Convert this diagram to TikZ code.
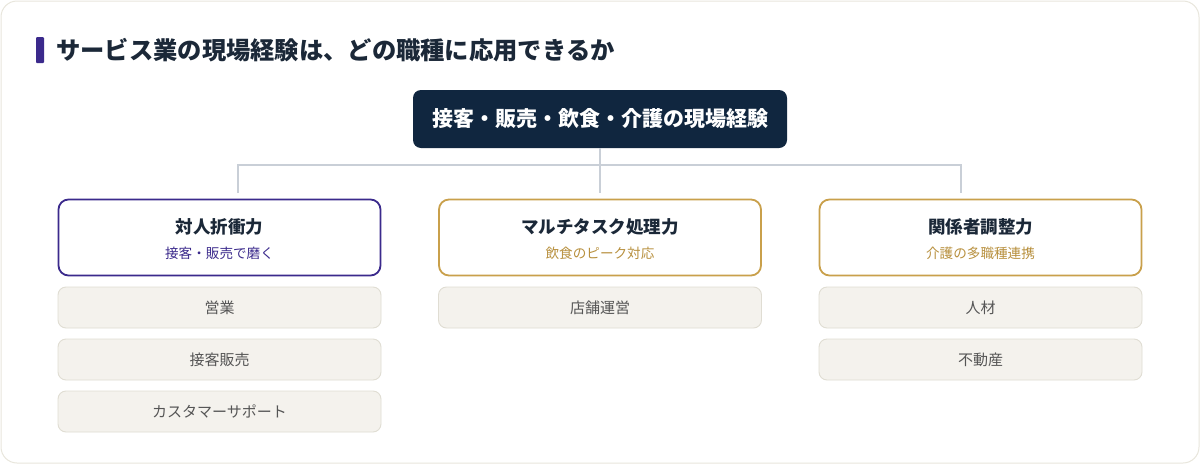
\documentclass[tikz,border=0pt]{standalone}
\usepackage{fontspec}
\setmainfont{Noto Sans CJK JP}
\definecolor{cardline}{HTML}{E8E6DC}
\definecolor{navy}{HTML}{10263F}
\definecolor{inkdark}{HTML}{1B2838}
\definecolor{purp}{HTML}{3B2A8C}
\definecolor{gold}{HTML}{C9A04B}
\definecolor{goldtext}{HTML}{B8903E}
\definecolor{itemfill}{HTML}{F4F2ED}
\definecolor{itemline}{HTML}{E0DDD3}
\definecolor{itemtext}{HTML}{555555}
\definecolor{conncol}{HTML}{C9CFD7}
\tikzset{
  topbox/.style={fill=navy, rounded corners=8pt, minimum width=374pt, minimum height=58pt, text=white, font=\fontsize{21}{25}\selectfont\bfseries, inner sep=0pt},
  catbox/.style={draw=#1, line width=1.8pt, fill=white, rounded corners=10pt, minimum width=322pt, minimum height=76pt, inner sep=0pt},
  cattitle/.style={text=inkdark, font=\fontsize{17.5}{21}\selectfont\bfseries, inner sep=0pt},
  catsub/.style={text=#1, font=\fontsize{13.6}{16}\selectfont, inner sep=0pt},
  itembox/.style={draw=itemline, line width=0.9pt, fill=itemfill, rounded corners=8pt, minimum width=323pt, minimum height=41pt, text=itemtext, font=\fontsize{15}{18}\selectfont, inner sep=0pt},
  conn/.style={draw=conncol, line width=1.6pt}
}
\begin{document}
\begin{tikzpicture}[x=1pt,y=-1pt]
\useasboundingbox (0,0) rectangle (1200,464);
\draw[cardline, fill=white, line width=1pt, rounded corners=16pt] (1,1) rectangle (1199,463);
% title
\fill[purp, rounded corners=1pt] (36,37) rectangle (44,63);
\node[anchor=west, text=inkdark, font=\fontsize{24.3}{28}\selectfont\bfseries, inner sep=0pt] (title) at (56,50) {サービス業の現場経験は、どの職種に応用できるか};
% top node
\node[topbox] (top) at (600,119) {接客・販売・飲食・介護の現場経験};
% connectors
\coordinate (jL) at (238,165);
\coordinate (jR) at (961,165);
\coordinate (eL) at (238,193);
\coordinate (eM) at (600,193);
\coordinate (eR) at (961,193);
\draw[conn] (top.south) -- (eM);
\draw[conn] (eL) -- (jL) -- (jR) -- (eR);
% categories
\node[catbox=purp] (c1) at (219.5,237.5) {};
\node[cattitle] (c1t) at (219.5,227) {対人折衝力};
\node[catsub=purp] (c1s) at (219.5,253) {接客・販売で磨く};
\node[catbox=gold] (c2) at (600,237.5) {};
\node[cattitle] (c2t) at (600,227) {マルチタスク処理力};
\node[catsub=goldtext] (c2s) at (600,253) {飲食のピーク対応};
\node[catbox=gold] (c3) at (980.5,237.5) {};
\node[cattitle] (c3t) at (980.5,227) {関係者調整力};
\node[catsub=goldtext] (c3s) at (980.5,253) {介護の多職種連携};
% items
\node[itembox] (i11) at (219.5,307.5) {営業};
\node[itembox] (i12) at (219.5,359.5) {接客販売};
\node[itembox] (i13) at (219.5,411.5) {カスタマーサポート};
\node[itembox] (i21) at (600,307.5) {店舗運営};
\node[itembox] (i31) at (980.5,307.5) {人材};
\node[itembox] (i32) at (980.5,359.5) {不動産};
\end{tikzpicture}
\end{document}
